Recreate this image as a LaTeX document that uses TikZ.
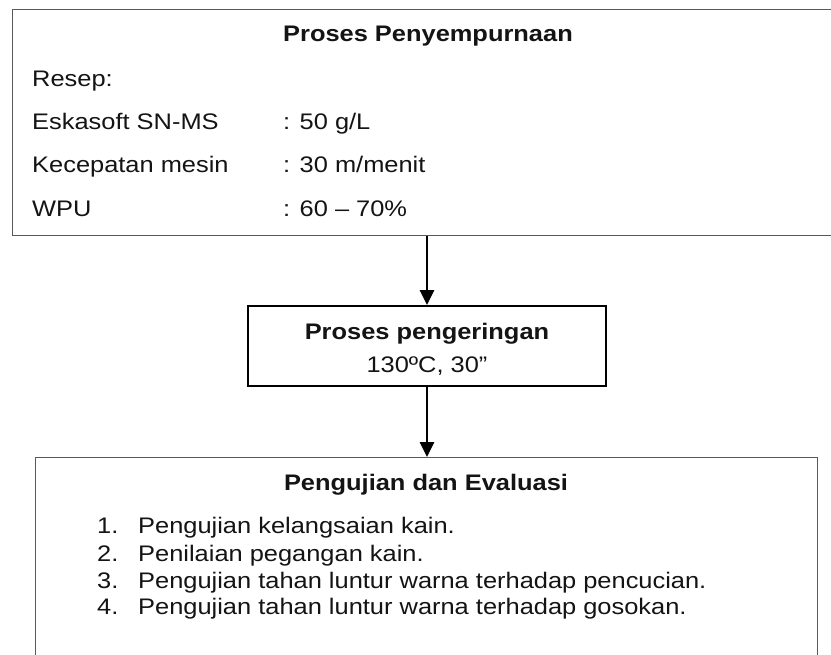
\documentclass[tikz,border=0pt]{standalone}
\usepackage{fontspec}
\setmainfont{Liberation Sans}[FakeStretch=1.13]
\usetikzlibrary{arrows.meta}
\begin{document}
\begin{tikzpicture}[x=1pt,y=-1pt,
  boxline/.style={draw=black!65, line width=1.4pt, inner sep=0pt},
  midbox/.style={draw=black, line width=1.8pt, inner sep=0pt, minimum width=358pt, minimum height=80pt},
  txt/.style={anchor=base west, inner sep=0pt, font=\fontsize{22.5}{27}\selectfont, text=black!92},
  ttl/.style={anchor=base, inner sep=0pt, font=\fontsize{22.5}{27}\selectfont\bfseries, text=black!92},
  ctr/.style={anchor=base, inner sep=0pt, font=\fontsize{22.5}{27}\selectfont, text=black!92},
  flow/.style={line width=2.6pt, -{Triangle[width=14pt,length=15pt]}}]
\useasboundingbox (0,0) rectangle (831,655);
\clip (0,0) rectangle (831,655);
\fill[white] (0,0) rectangle (831,655);
% boxes
\node[boxline, anchor=north west, minimum width=830pt, minimum height=226pt] (top) at (12,9) {};
\node[midbox] (mid) at (427,346) {};
\node[boxline, anchor=north west, minimum width=782pt, minimum height=300pt] (bot) at (35,457) {};
% top box text
\node[ttl] (t0) at (428,42) {Proses Penyempurnaan};
\node[txt] (r0) at (32,87) {Resep:};
\node[txt] (r1) at (32,130) {Eskasoft SN-MS};
\node[txt] (r2) at (32,173) {Kecepatan mesin};
\node[txt] (r3) at (32,217) {WPU};
\node[txt] (v1) at (283,130) {: 50 g/L};
\node[txt] (v2) at (283,173) {: 30 m/menit};
\node[txt] (v3) at (283,217) {: 60 – 70\%};
% middle box text
\node[ttl] (m0) at (427,340) {Proses pengeringan};
\node[ctr] (m1) at (427,373) {130ºC, 30”};
% bottom box text
\node[ttl] (b0) at (426,490) {Pengujian dan Evaluasi};
\node[txt] (n1) at (97,533) {1.};
\node[txt] (n2) at (97,561) {2.};
\node[txt] (n3) at (97,588) {3.};
\node[txt] (n4) at (97,614) {4.};
\node[txt] (i1) at (138,533) {Pengujian kelangsaian kain.};
\node[txt] (i2) at (138,561) {Penilaian pegangan kain.};
\node[txt] (i3) at (138,588) {Pengujian tahan luntur warna terhadap pencucian.};
\node[txt] (i4) at (138,614) {Pengujian tahan luntur warna terhadap gosokan.};
% connectors
\draw[flow] (mid.north |- top.south) -- (mid.north);
\draw[flow] (mid.south) -- (mid.south |- bot.north);
\end{tikzpicture}
\end{document}
